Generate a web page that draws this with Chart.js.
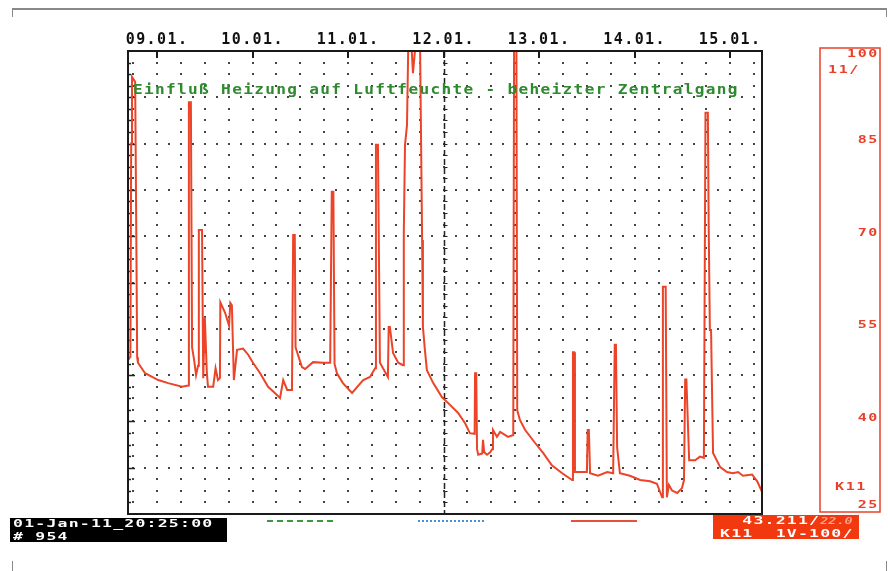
<!DOCTYPE html>
<html lang="de">
<head>
<meta charset="utf-8">
<title>Einfluß Heizung auf Luftfeuchte</title>
<script src="https://cdn.jsdelivr.net/npm/chart.js@4.4.1/dist/chart.umd.min.js"></script>
<style>
  html, body { margin: 0; padding: 0; background: #fff; }
  #wrap { position: relative; width: 888px; height: 571px; overflow: hidden;
          font-family: 'DejaVu Sans Mono', monospace; font-weight: bold; }
  #chart { position: absolute; left: 0; top: 0; }
  .abs { position: absolute; white-space: pre; }
  .wide { display: inline-block; transform-origin: 0 0; }
  #title { left: 133px; top: 81px; color: #2f8a2f; font-size: 14px; line-height: 16px; }
  #title .wide { letter-spacing: 1.15px; transform: scaleX(1.15); }
  #stamp { left: 10px; top: 518px; width: 217px; height: 24px; background: #000; color: #fff;
           font-size: 11px; line-height: 12.5px; padding-left: 3px; box-sizing: border-box; }
  #reading { left: 713px; top: 515px; width: 146px; height: 24px; background: #f2380f; color: #fff;
             font-size: 11px; line-height: 12.5px; padding-left: 7px; box-sizing: border-box; overflow: hidden; }
  #stamp .wide, #reading .wide { letter-spacing: 0.8px; transform: scaleX(1.5); }
  #reading .faint { color: rgba(255, 185, 165, 0.8); font-style: italic; font-size: 9px; letter-spacing: 0; }
  .key { top: 520px; height: 0; width: 66px; }
  .mark { background: #888; }
</style>
</head>
<body>
<div id="wrap">
  <canvas id="chart" width="888" height="571"></canvas>
  <div class="abs mark" style="left:12px; top:8px; width:875px; height:2px;"></div>
  <div class="abs mark" style="left:12px; top:8px; width:1px; height:9px;"></div>
  <div class="abs mark" style="left:886px; top:8px; width:1px; height:9px;"></div>
  <div class="abs mark" style="left:12px; top:561px; width:1px; height:10px;"></div>
  <div class="abs mark" style="left:886px; top:561px; width:1px; height:10px;"></div>
  <div id="title" class="abs"><span class="wide">Einfluß Heizung auf Luftfeuchte - beheizter Zentralgang</span></div>
  <div id="stamp" class="abs"><span class="wide">01-Jan-11_20:25:00
# 954</span></div>
  <div class="abs key" style="left:267px; border-top:2px dashed #3c9a3c;"></div>
  <div class="abs key" style="left:418px; border-top:2px dotted #4a90d9;"></div>
  <div class="abs key" style="left:571px; border-top:2px solid #e8503a;"></div>
  <div id="reading" class="abs"><span class="wide">  43.211/<span class="faint">22.0</span>
K11  1V-100/</span></div>
</div>
<script>
// Zeitachse in Stunden ab 08.01. 00:00
const dayTicks = [24, 48, 72, 96, 120, 144, 168];
const dayLabels = ['09.01.', '10.01.', '11.01.', '12.01.', '13.01.', '14.01.', '15.01.'];
const scaleTicks = [100, 85, 70, 55, 40, 25];

// Messpunkte K11 (rel. Feuchte %)
const sampleHours = [
  16.7, 17.3, 17.5, 17.7, 18.5, 18.9, 19.0, 19.2, 21.0, 24.3,
  26.8, 30.3, 31.8, 32.0, 32.5, 32.8, 33.3, 33.8, 34.3, 34.5,
  35.3, 35.6, 36.0, 36.5, 36.8, 38.1, 38.7, 39.3, 39.8, 39.9,
  41.1, 42.1, 42.4, 42.8, 43.3, 44.1, 45.6, 46.9, 48.1, 49.9,
  51.9, 53.6, 54.9, 55.7, 56.7, 57.9, 58.2, 58.6, 58.8, 60.4,
  61.2, 63.2, 65.7, 67.5, 67.9, 68.3, 68.6, 69.2, 70.7, 73.0,
  74.3, 75.8, 77.5, 78.8, 79.0, 79.5, 80.0, 82.0, 82.2, 82.5,
  83.3, 84.6, 85.8, 86.0, 86.3, 86.8, 87.1, 88.0, 88.3, 88.8,
  90.1, 90.6, 90.8, 91.3, 91.8, 93.4, 95.6, 97.1, 99.6, 101.4,
  102.6, 103.8, 103.9, 104.2, 104.4, 104.7, 105.7, 105.9, 106.2, 106.9,
  107.7, 108.2, 108.4, 109.4, 110.2, 112.2, 113.5, 113.7, 114.3, 114.5,
  115.2, 116.5, 119.0, 121.0, 123.2, 125.8, 128.3, 128.5, 128.8, 129.0,
  132.0, 132.2, 132.5, 132.8, 134.8, 137.1, 138.6, 139.0, 139.3, 139.6,
  140.3, 142.8, 145.4, 147.9, 149.6, 150.9, 151.1, 151.8, 152.1, 152.6,
  153.4, 154.7, 155.9, 156.4, 156.7, 157.0, 157.7, 159.2, 160.4, 161.4,
  161.8, 162.4, 162.6, 162.9, 163.2, 163.7, 165.5, 167.2, 168.7, 170.0,
  171.2, 173.5, 174.8, 176.0
];
const humidity = [
  49.9, 50.5, 85, 95.8, 95, 60, 50.4, 49.5, 47.8, 46.7,
  46.2, 45.6, 45.8, 91.7, 91.7, 52.0, 50, 47.5, 49, 71.0,
  71.0, 47.0, 56.9, 48, 45.6, 45.6, 48.6, 46.7, 47, 59.3,
  57.6, 55.5, 59.2, 58.8, 46.7, 51.6, 51.8, 50.8, 49.5, 47.8,
  45.6, 44.6, 43.8, 46.7, 45.1, 45.1, 70.2, 70.2, 52.0, 48.8,
  48.5, 49.6, 49.5, 49.5, 77.2, 77.2, 49.3, 47.8, 46.2, 44.6,
  45.6, 46.7, 47.2, 48.6, 84.8, 84.8, 49.5, 47.2, 55.3, 55.3,
  51.1, 49.5, 49.1, 70.5, 84.8, 88, 100, 100, 96.4, 100,
  100, 69.4, 55.3, 51.6, 48.3, 46.2, 43.9, 43.0, 41.4, 39.7,
  38.1, 38, 47.8, 47.8, 35.5, 34.6, 34.8, 37.0, 35, 34.6,
  35.0, 35.5, 38.6, 37.5, 38.3, 37.5, 37.8, 100, 100, 41.8,
  40.2, 38.6, 36.5, 34.9, 32.9, 31.6, 30.5, 51.2, 51.2, 31.8,
  31.8, 38.6, 38.6, 31.6, 31.2, 31.8, 31.6, 52.4, 52.4, 35.8,
  31.6, 31.2, 30.5, 30.3, 29.9, 27.7, 61.8, 61.8, 27.7, 29.7,
  28.8, 28.4, 29.2, 30.5, 46.8, 46.8, 33.7, 33.7, 34.3, 34.1,
  90.0, 90.0, 72, 54.8, 54.8, 34.9, 32.6, 31.8, 31.6, 31.8,
  31.2, 31.4, 30.3, 28.6
];

const RED = '#e8402a';
const MONO = "'DejaVu Sans Mono', monospace";

// breite Schrift wie beim Schreiber: horizontal gestreckt
function wideText(ctx, text, x, y, align) {
  const sx = 1.5;
  const w = ctx.measureText(text).width * sx;
  ctx.save();
  ctx.translate(align === 'right' ? x - w : x, y);
  ctx.scale(sx, 1);
  ctx.textAlign = 'left';
  ctx.fillText(text, 0, 0);
  ctx.restore();
}

// Schreiberpapier: Punktraster, Rahmen, Skala rechts
const recorderPaper = {
  id: 'recorderPaper',
  beforeDraw(chart) {
    chart.ctx.letterSpacing = '1.4px';
  },
  beforeDatasetsDraw(chart) {
    const { ctx, chartArea: a, scales: { x, y } } = chart;
    const minor = (y.max - y.min) / 40;
    ctx.save();
    ctx.letterSpacing = '0px';
    ctx.fillStyle = '#444';
    // Punkte auf den Nebenlinien, Spalten alle 6 h
    for (let h = Math.ceil(x.min / 6) * 6; h < x.max; h += 6) {
      const px = Math.round(x.getPixelForValue(h));
      for (let i = 1; i < 40; i++) {
        const py = Math.round(y.getPixelForValue(y.min + i * minor));
        ctx.fillRect(px - 1, py - 1, 2, 2);
      }
    }
    // Hauptlinien dichter
    for (let i = 4; i < 40; i += 4) {
      const py = Math.round(y.getPixelForValue(y.min + i * minor));
      for (let h = Math.ceil(x.min / 3) * 3; h < x.max; h += 3) {
        const px = Math.round(x.getPixelForValue(h));
        ctx.fillRect(px - 1, py - 1, 2, 2);
      }
    }
    // Striche am linken Rand
    ctx.strokeStyle = '#222';
    ctx.lineWidth = 1.5;
    for (let i = 1; i < 40; i++) {
      const py = Math.round(y.getPixelForValue(y.min + i * minor)) + 0.5;
      ctx.beginPath();
      ctx.moveTo(a.left, py);
      ctx.lineTo(a.left + (i % 4 === 0 ? 7 : 3), py);
      ctx.stroke();
    }
    // Tagesmarke 12.01. gestrichelt
    const dx = Math.round(x.getPixelForValue(96)) + 0.5;
    ctx.setLineDash([6, 3]);
    ctx.beginPath();
    ctx.moveTo(dx, a.top);
    ctx.lineTo(dx, a.bottom);
    ctx.stroke();
    ctx.setLineDash([]);
    ctx.lineWidth = 1;
    for (let i = 1; i < 40; i++) {
      const py = Math.round(y.getPixelForValue(y.min + i * minor)) + 0.5;
      ctx.beginPath();
      ctx.moveTo(dx, py);
      ctx.lineTo(dx + 3, py);
      ctx.stroke();
    }
    ctx.restore();
  },
  afterDatasetsDraw(chart) {
    const { ctx, chartArea: a, scales: { x } } = chart;
    ctx.save();
    ctx.strokeStyle = '#1a1a1a';
    ctx.lineWidth = 2;
    ctx.strokeRect(a.left, a.top, a.right - a.left, a.bottom - a.top);
    dayTicks.forEach(d => {
      const px = Math.round(x.getPixelForValue(d));
      ctx.beginPath();
      ctx.moveTo(px, a.top);
      ctx.lineTo(px, a.top + 7);
      ctx.stroke();
    });
    ctx.restore();
  },
  afterDraw(chart) {
    const { ctx, scales: { y } } = chart;
    const box = { left: 820, top: 48, right: 880, bottom: 512 };
    ctx.save();
    ctx.letterSpacing = '1.1px';
    ctx.strokeStyle = RED;
    ctx.lineWidth = 1.5;
    ctx.strokeRect(box.left, box.top, box.right - box.left, box.bottom - box.top);
    ctx.fillStyle = RED;
    ctx.font = 'bold 10px ' + MONO;
    ctx.textBaseline = 'middle';
    scaleTicks.forEach(v => {
      const py = Math.min(Math.max(y.getPixelForValue(v) - 3, box.top + 6), box.bottom - 7);
      wideText(ctx, String(v), box.right - 1, py, 'right');
    });
    wideText(ctx, '11/', 828, 70, 'left');
    wideText(ctx, 'K11', 835, 487, 'left');
    ctx.restore();
    ctx.letterSpacing = '0px';
  }
};

new Chart(document.getElementById('chart'), {
  type: 'line',
  data: {
    datasets: [{
      label: 'K11',
      data: sampleHours.map((h, i) => ({ x: h, y: humidity[i] })),
      borderColor: '#ec4428',
      borderWidth: 2,
      pointRadius: 0,
      tension: 0,
      fill: false
    }]
  },
  options: {
    responsive: false,
    animation: false,
    events: [],
    layout: { padding: { left: 128, right: 126, top: 0, bottom: 57 } },
    plugins: {
      legend: { display: false },
      tooltip: { enabled: false }
    },
    scales: {
      x: {
        type: 'linear',
        position: 'top',
        min: 16.7,
        max: 176,
        afterBuildTicks: s => { s.ticks = dayTicks.map(v => ({ value: v })); },
        afterFit: s => { s.height = 51; },
        ticks: {
          autoSkip: false,
          maxRotation: 0,
          padding: 2,
          color: '#111',
          font: { family: MONO, size: 15, weight: 'bold' },
          callback: (v, i) => dayLabels[i]
        },
        grid: { display: false, drawTicks: false },
        border: { display: false }
      },
      y: {
        min: 25,
        max: 100,
        display: false
      }
    }
  },
  plugins: [recorderPaper]
});
</script>
</body>
</html>
